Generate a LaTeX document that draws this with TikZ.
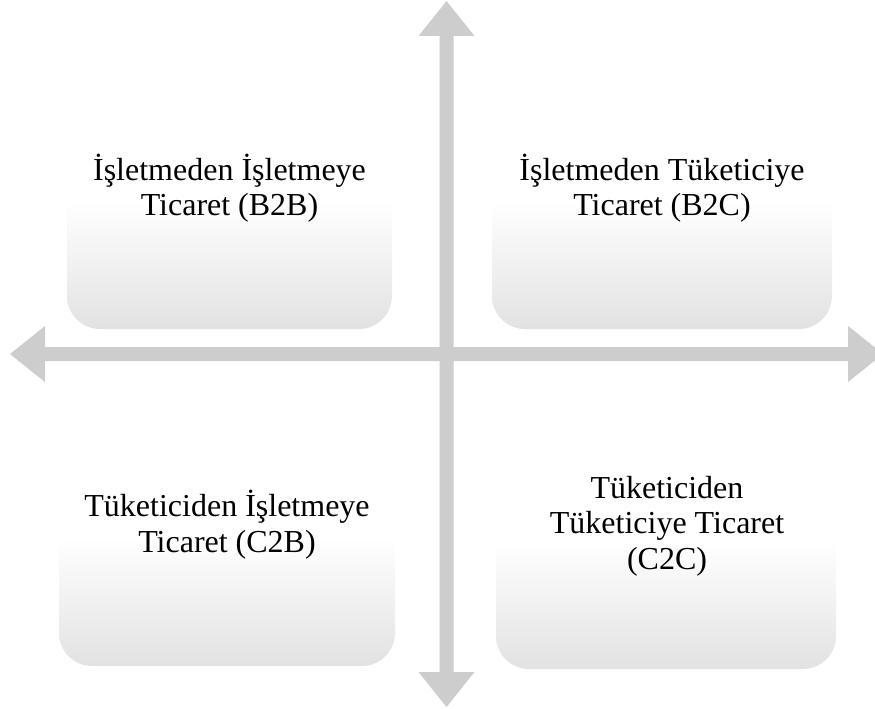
\documentclass[tikz,border=0pt]{standalone}
\usepackage{fontspec}
\setmainfont{Liberation Serif}
\definecolor{axisgray}{RGB}{205,205,205}
\definecolor{boxgray}{RGB}{226,226,226}
% grey at the bottom edge, fading to white about two thirds of the way up
\pgfdeclareverticalshading{quadfade}{100bp}{color(0bp)=(boxgray); color(25bp)=(boxgray);
  color(59bp)=(white); color(100bp)=(white)}
\tikzset{
  quad/.style={rounded corners=33pt, shading=quadfade,
               draw=none, inner sep=0pt},
  lbl/.style={font=\fontsize{32}{35.5}\selectfont, align=center,
              inner sep=0pt, anchor=base, text=black},
  axisarrow/.style={fill=axisgray, draw=none}
}
\begin{document}
\begin{tikzpicture}[x=1pt,y=-1pt]
\useasboundingbox (0,0) rectangle (875,709);
\clip (0,0) rectangle (875,709);

% the four quadrant boxes
\node[quad, minimum width=325pt, minimum height=189pt] (b2b) at (229.5,234.5) {};
\node[quad, minimum width=340pt, minimum height=189pt] (b2c) at (662,234.5) {};
\node[quad, minimum width=336pt, minimum height=189pt] (c2b) at (227,571.5) {};
\node[quad, minimum width=340pt, minimum height=189pt] (c2c) at (666,574.5) {};

% horizontal double-headed axis
\fill[axisarrow] (10,354) -- (45,326) -- (45,347) -- (848,347) -- (848,326)
  -- (883,354) -- (848,382) -- (848,361) -- (45,361) -- (45,382) -- cycle;
% vertical double-headed axis
\fill[axisarrow] (446.5,1) -- (474.5,36) -- (453.5,36) -- (453.5,672)
  -- (474.5,672) -- (446.5,707) -- (418.5,672) -- (439.5,672)
  -- (439.5,36) -- (418.5,36) -- cycle;

% labels (anchored on the baseline of their last line)
\node[lbl] (b2bt) at (229.5,215.5) {İşletmeden İşletmeye\\Ticaret (B2B)};
\node[lbl] (b2ct) at (662,215.5) {İşletmeden Tüketiciye\\Ticaret (B2C)};
\node[lbl] (c2bt) at (227,552) {Tüketiciden İşletmeye\\Ticaret (C2B)};
\node[lbl] (c2ct) at (667,569) {Tüketiciden\\Tüketiciye Ticaret\\(C2C)};
\end{tikzpicture}
\end{document}
